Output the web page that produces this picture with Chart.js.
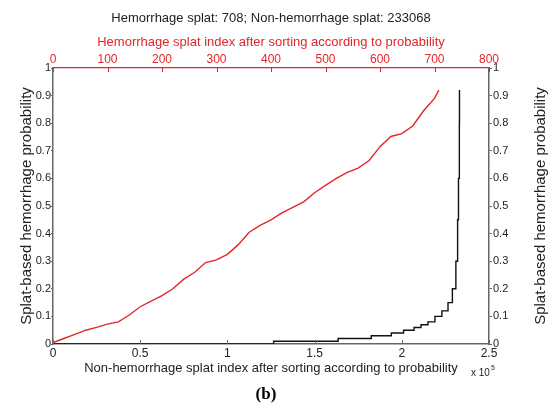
<!DOCTYPE html>
<html>
<head>
<meta charset="utf-8">
<script src="https://cdn.jsdelivr.net/npm/chart.js@4/dist/chart.umd.min.js"></script>
<style>
html, body { margin: 0; padding: 0; background: #fff; }
</style>
</head>
<body>
<canvas id="chart" width="552" height="419"></canvas>
<script>
// hemorrhage splats (top axis, 0-800)
const redIdx  = [0, 20, 40, 60, 80, 100, 120, 140, 160, 180, 200, 220, 240, 260, 280, 300, 320, 340, 360, 380, 400, 420, 440, 460, 480, 500, 520, 540, 560, 580, 600, 620, 640, 660, 680, 700, 708];
const redProb = [0.005, 0.02, 0.035, 0.05, 0.06, 0.072, 0.08, 0.105, 0.135, 0.155, 0.175, 0.2, 0.235, 0.26, 0.295, 0.305, 0.325, 0.36, 0.405, 0.43, 0.45, 0.475, 0.495, 0.515, 0.548, 0.575, 0.6, 0.622, 0.637, 0.665, 0.715, 0.752, 0.762, 0.79, 0.845, 0.89, 0.92];

// non-hemorrhage splats (bottom axis, 0-2.5e5)
const blackIdx  = [0, 126500, 163500, 182500, 194000, 201000, 207000, 211000, 215000, 219000, 223000, 226500, 229000, 231000, 232000, 232500, 233000, 233068];
const blackProb = [0, 0.01, 0.02, 0.03, 0.04, 0.05, 0.06, 0.07, 0.08, 0.10, 0.12, 0.15, 0.2, 0.3, 0.45, 0.6, 0.8, 0.92];

const topTicks = [0, 100, 200, 300, 400, 500, 600, 700, 800];
const bottomTicks = [0, 0.5, 1, 1.5, 2, 2.5];   // x 10^5
const probTicks = [0, 0.1, 0.2, 0.3, 0.4, 0.5, 0.6, 0.7, 0.8, 0.9, 1];

const RED = "#e3262b";
const AXIS = "#666";
const FONT = "'Liberation Sans', Arial, sans-serif";
const titleText = "Hemorrhage splat: 708; Non-hemorrhage splat: 233068";
const yLabel = "Splat-based hemorrhage probability";

const redPts = redIdx.map((x, i) => ({ x: x, y: redProb[i] }));
const blackPts = blackIdx.map((x, i) => ({ x: x, y: blackProb[i] }));

const decor = {
    id: "decor",
    afterDraw(chart) {
        const ctx = chart.ctx;
        const a = chart.chartArea;
        const s = chart.scales;
        ctx.save();
        // inward ticks on the horizontal axes
        [["x", AXIS, a.bottom, -1], ["x2", RED, a.top, 1]].forEach(([id, col, y0, dir]) => {
            const sc = s[id];
            ctx.strokeStyle = col;
            ctx.lineWidth = 1;
            sc.ticks.forEach(t => {
                const px = Math.round(sc.getPixelForValue(t.value)) + 0.5;
                ctx.beginPath();
                ctx.moveTo(px, y0);
                ctx.lineTo(px, y0 + dir * 4);
                ctx.stroke();
            });
        });
        ctx.fillStyle = "#222";
        ctx.textAlign = "center";
        ctx.textBaseline = "middle";
        ctx.font = "13px " + FONT;
        ctx.fillText(titleText, (a.left + a.right) / 2, 18);

        // right y label, reading upwards
        ctx.save();
        ctx.translate(541, (a.top + a.bottom) / 2);
        ctx.rotate(-Math.PI / 2);
        ctx.font = "15px " + FONT;
        ctx.fillText(yLabel, 0, 0);
        ctx.restore();

        // exponent of the bottom axis
        ctx.textAlign = "left";
        ctx.font = "10px " + FONT;
        ctx.fillText("x 10", 471, 373);
        ctx.font = "7px " + FONT;
        ctx.fillText("5", 491, 368);

        ctx.textAlign = "center";
        ctx.fillStyle = "#000";
        ctx.font = "bold 17px 'Liberation Serif', 'Times New Roman', serif";
        ctx.fillText("(b)", 266, 395);
        ctx.restore();
    }
};

const yScale = (pos) => ({
    type: "linear",
    position: pos,
    min: 0,
    max: 1,
    afterBuildTicks: sc => { sc.ticks = probTicks.map(v => ({ value: v })); },
    ticks: { color: "#222", font: { family: FONT, size: 11 }, padding: pos === "left" ? 0 : 1, callback: v => String(v) },
    grid: { drawOnChartArea: false, drawTicks: true, tickLength: pos === "left" ? 2 : 3, color: AXIS },
    border: { color: AXIS, width: 1.5 },
    title: pos === "left"
        ? { display: true, text: yLabel, color: "#222", font: { family: FONT, size: 15 }, padding: { top: 18, bottom: 0 } }
        : { display: false },
    afterFit: sc => { sc.width = pos === "left" ? 53 : 63; }
});

new Chart(document.getElementById("chart"), {
    type: "line",
    data: {
        datasets: [{
            label: "Hemorrhage",
            data: redPts,
            xAxisID: "x2",
            yAxisID: "y",
            borderColor: RED,
            borderWidth: 1.4,
            pointRadius: 0,
            fill: false
        }, {
            label: "Non-hemorrhage",
            data: blackPts,
            xAxisID: "x",
            yAxisID: "y",
            borderColor: "#111",
            borderWidth: 1.4,
            pointRadius: 0,
            stepped: true,
            fill: false
        }]
    },
    options: {
        responsive: false,
        animation: false,
        layout: { padding: { top: 31, bottom: 39, left: 0, right: 0 } },
        plugins: {
            legend: { display: false },
            tooltip: { enabled: false }
        },
        scales: {
            x: {
                type: "linear",
                position: "bottom",
                min: 0,
                max: 250000,
                afterBuildTicks: sc => { sc.ticks = bottomTicks.map(v => ({ value: v * 1e5 })); },
                ticks: { color: "#222", font: { family: FONT, size: 12 }, padding: 2, maxRotation: 0, callback: v => String(v / 1e5) },
                grid: { drawOnChartArea: false, drawTicks: false },
                border: { color: AXIS, width: 1.5 },
                title: { display: true, text: "Non-hemorrhage splat index after sorting according to probability", color: "#222", font: { family: FONT, size: 13 }, padding: { top: 0, bottom: 4 } },
                afterFit: sc => { sc.height = 36; }
            },
            x2: {
                type: "linear",
                position: "top",
                min: 0,
                max: 800,
                afterBuildTicks: sc => { sc.ticks = topTicks.map(v => ({ value: v })); },
                ticks: { color: RED, font: { family: FONT, size: 12 }, padding: 1, maxRotation: 0 },
                grid: { drawOnChartArea: false, drawTicks: false },
                border: { color: RED, width: 1.2 },
                title: { display: true, text: "Hemorrhage splat index after sorting according to probability", color: RED, font: { family: FONT, size: 13 }, padding: { top: 4, bottom: 0 } },
                afterFit: sc => { sc.height = 37; }
            },
            y: yScale("left"),
            y2: yScale("right")
        }
    },
    plugins: [decor]
});
</script>
</body>
</html>
